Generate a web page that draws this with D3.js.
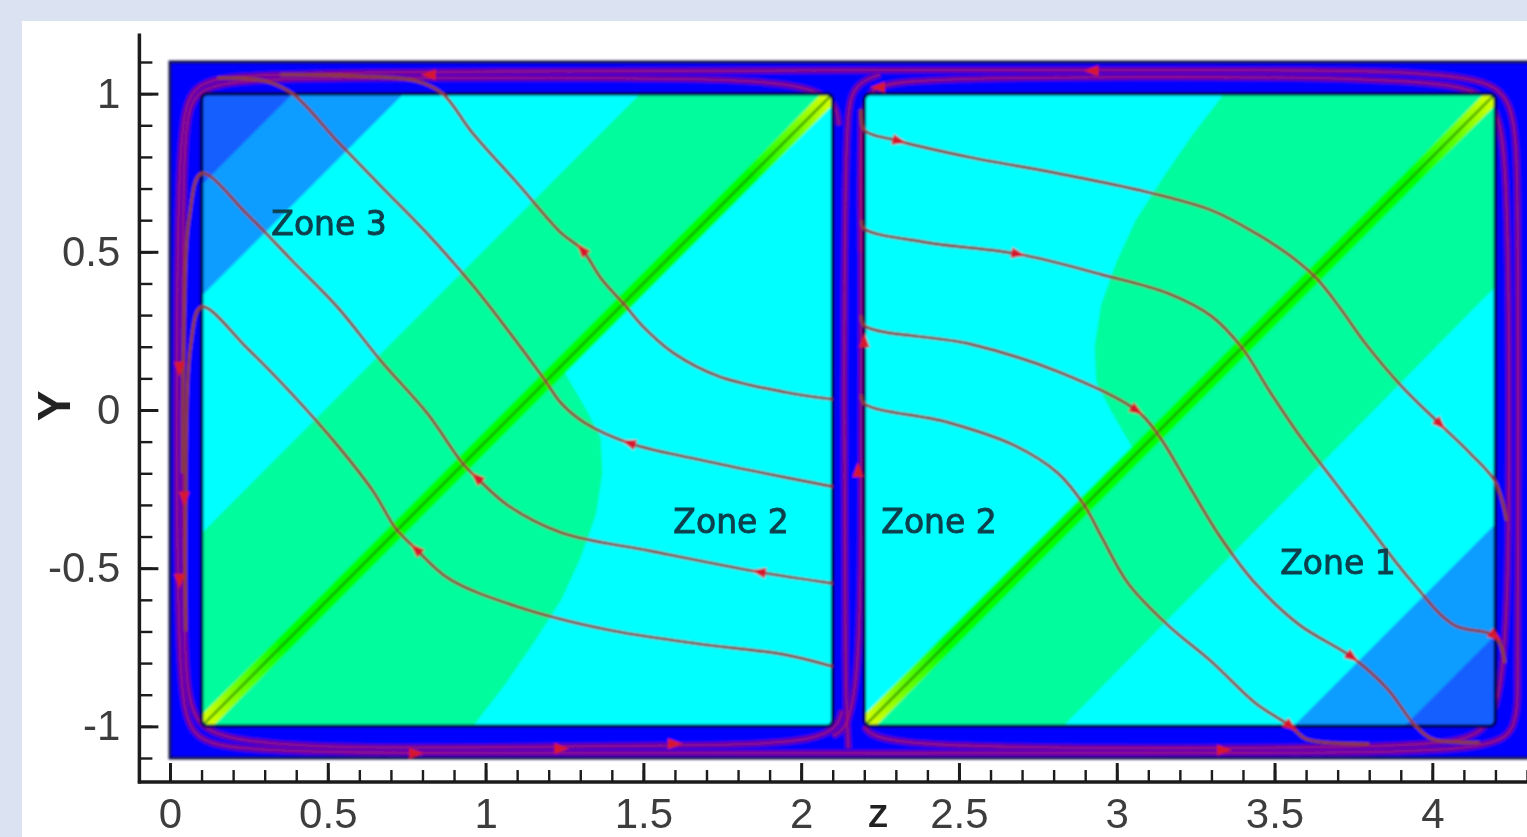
<!DOCTYPE html>
<html>
<head>
<meta charset="utf-8">
<style>
  html, body { margin: 0; padding: 0; background: #dbe3f3; overflow: hidden; }
  #chart { width: 1527px; height: 837px; }
</style>
</head>
<body>
<div id="chart"></div>
<script src="https://cdn.jsdelivr.net/npm/d3@7/dist/d3.min.js"></script>
<script>
// ---- axes ----
const xTicks = [0, 0.5, 1, 1.5, 2, 2.5, 3, 3.5, 4];
const yTicks = [-1, -0.5, 0, 0.5, 1];
const xMinorTicks = d3.range(0, 4.31, 0.1);
const yMinorTicks = d3.range(-1.1, 1.11, 0.1);
const xLabel = 'Z';
const yLabel = 'Y';

// ---- flow domain (z, Y) ----
const domainZ = [0, 4.3];
const domainY = [-1.1, 1.1];
const cellsZ = [[0.1, 2.1], [2.2, 4.2]];
const cellY = [-1, 1];

// contour bands, left cell
const upperGreenL = [[0.1, -1], [2.1, 1], [1.49, 1], [0.1, -0.39]];
const midBlueL = [[0.1, 0.36], [0.74, 1], [0.39, 1], [0.1, 0.71]];
const darkBlueL = [[0.1, 0.71], [0.39, 1], [0.1, 1]];
const lowerGreenL = [[0.1, -1], [1.25, 0.12], [1.32, 0.0], [1.365, -0.09], [1.37, -0.2], [1.35, -0.33],
  [1.3, -0.47], [1.24, -0.6], [1.15, -0.74], [1.06, -0.87], [0.96, -1]];

// contour bands, right cell
const upperGreenR = [[4.2, 1], [2.2, -1], [2.83, -1], [4.2, 0.39]];
const midBlueR = [[4.2, -0.36], [3.56, -1], [3.91, -1], [4.2, -0.71]];
const darkBlueR = [[4.2, -0.71], [3.91, -1], [4.2, -1]];
const lowerGreenR = [[4.2, 1], [3.05, -0.12], [2.98, 0.0], [2.935, 0.09], [2.93, 0.2], [2.95, 0.33],
  [3.0, 0.47], [3.06, 0.6], [3.15, 0.74], [3.24, 0.87], [3.34, 1]];

// streamlines inside the cells (flow order)
const lineA = [[2.1, 0.034], [1.951, 0.056], [1.738, 0.107], [1.596, 0.18], [1.496, 0.267], [1.44, 0.333],
  [1.368, 0.413], [1.305, 0.508], [1.24, 0.559], [1.099, 0.719], [0.956, 0.879], [0.864, 1],
  [0.78, 1.04], [0.6, 1.055], [0.35, 1.06]];
const lineB = [[2.1, -0.242], [1.88, -0.199], [1.667, -0.155], [1.454, -0.104], [1.312, -0.039], [1.241, 0.02],
  [1.184, 0.1], [1.07, 0.253], [0.956, 0.398], [0.814, 0.559], [0.672, 0.704], [0.53, 0.85], [0.388, 1],
  [0.3, 1.04], [0.15, 1.05]];
const lineC = [[2.1, -0.548], [1.866, -0.512], [1.525, -0.446], [1.241, -0.388], [1.07, -0.301], [0.971, -0.213],
  [0.928, -0.17], [0.814, -0.009], [0.672, 0.151], [0.53, 0.326], [0.388, 0.471], [0.246, 0.617], [0.1, 0.748],
  [0.06, 0.6], [0.045, 0.3], [0.04, -0.2]];
const lineD = [[2.1, -0.811], [1.951, -0.774], [1.667, -0.738], [1.383, -0.694], [1.099, -0.621], [0.885, -0.534],
  [0.779, -0.439], [0.715, -0.374], [0.644, -0.257], [0.53, -0.111], [0.388, 0.049], [0.246, 0.194], [0.1, 0.326],
  [0.065, 0.2], [0.05, -0.3], [0.05, -0.7]];
const lineE = [[2.19, 0.95], [2.2, 0.886], [2.311, 0.85], [2.534, 0.799], [2.813, 0.748], [3.092, 0.69], [3.301, 0.631],
  [3.44, 0.559], [3.552, 0.486], [3.636, 0.413], [3.705, 0.326], [3.789, 0.209], [3.9, 0.078], [4.026, -0.046],
  [4.123, -0.14], [4.2, -0.228], [4.235, -0.35]];
const lineF = [[2.19, 0.6], [2.2, 0.573], [2.395, 0.53], [2.688, 0.493], [2.953, 0.428], [3.162, 0.369], [3.301, 0.296],
  [3.399, 0.194], [3.482, 0.063], [3.58, -0.082], [3.691, -0.228], [3.803, -0.374], [3.928, -0.534],
  [4.068, -0.679], [4.2, -0.716], [4.23, -0.8]];
const lineG = [[2.19, 0.3], [2.2, 0.267], [2.534, 0.209], [2.813, 0.122], [3.064, -0.002], [3.134, -0.082],
  [3.231, -0.243], [3.329, -0.403], [3.44, -0.549], [3.58, -0.68], [3.747, -0.782], [3.859, -0.883],
  [3.942, -0.993], [4.0, -1.04], [4.15, -1.05]];
const lineH = [[2.19, 0.05], [2.2, 0.02], [2.465, -0.039], [2.674, -0.111], [2.813, -0.199], [2.897, -0.301],
  [2.953, -0.403], [3.036, -0.548], [3.162, -0.68], [3.301, -0.796], [3.44, -0.927], [3.552, -1],
  [3.6, -1.04], [3.8, -1.055]];
const cellLines = [lineA, lineB, lineC, lineD, lineE, lineF, lineG, lineH];

// arrowheads: [line index, point index]
const lineArrows = [[0, 7], [1, 3], [2, 5], [2, 1], [3, 6], [4, 2], [4, 13], [5, 3], [5, 14], [6, 4], [6, 10], [7, 11]];

// circulation in the blue gap around the cells
const bandLines = [
  [[4.27, -0.9], [4.275, 0.9], [4.25, 1.07], [3.5, 1.075], [2.2, 1.075], [1.0, 1.07], [0.1, 1.065], [0.025, 1.0],
   [0.02, 0], [0.025, -1.0], [0.1, -1.082], [1.0, -1.085], [2.2, -1.085], [3.5, -1.085], [4.2, -1.08], [4.265, -1.0], [4.27, -0.9]],
  [[2.12, 0.9], [2.1, 1.04], [1.5, 1.05], [0.6, 1.05], [0.1, 1.045], [0.045, 0.95], [0.04, 0.5], [0.04, -0.9],
   [0.08, -1.06], [0.8, -1.07], [1.6, -1.06], [2.1, -1.055], [2.13, -0.95]],
  [[2.2, -1.0], [2.25, -1.065], [3.2, -1.07], [4.1, -1.065], [4.24, -1.0], [4.245, 0], [4.24, 0.95], [4.15, 1.05],
   [3.0, 1.055], [2.25, 1.045], [2.185, 1.0], [2.19, 0.5]],
  [[2.15, -1.07], [2.14, -0.9], [2.135, 0], [2.14, 0.9], [2.16, 1.03], [2.25, 1.06]],
  [[2.1, -1.03], [2.19, -0.98], [2.192, 0], [2.19, 0.95]]
];
// [z, Y, direction in degrees on screen]
const bandArrows = [[0.82, 1.06, 180], [2.243, 1.02, 180], [2.92, 1.072, 180], [0.03, 0.13, 90], [0.03, -0.54, 90],
  [0.045, -0.28, 90], [0.78, -1.085, 0], [1.6, -1.055, 0], [1.24, -1.07, 0], [3.34, -1.075, 0],
  [2.2, 0.22, -90], [2.18, -0.19, -90]];

const zoneLabels = [
  { text: 'Zone 3', z: 0.504, Y: 0.591 },
  { text: 'Zone 2', z: 1.778, Y: -0.354 },
  { text: 'Zone 2', z: 2.437, Y: -0.354 },
  { text: 'Zone 1', z: 3.701, Y: -0.483 }
];

const bandsByCell = [
  [{ pts: upperGreenL, c: '#00fc9c' }, { pts: lowerGreenL, c: '#00fc9c' }, { pts: midBlueL, c: '#0a9cff' }, { pts: darkBlueL, c: '#165fff' }],
  [{ pts: upperGreenR, c: '#00fc9c' }, { pts: lowerGreenR, c: '#00fc9c' }, { pts: midBlueR, c: '#0a9cff' }, { pts: darkBlueR, c: '#165fff' }]
];

const axisZ = -0.097;       // where the Y axis stands
const axisY = -1.176;       // where the Z axis stands
const axisTopY = 1.19;

const width = 1527, height = 837;
const svg = d3.select('#chart').append('svg')
  .attr('width', width)
  .attr('height', height);

const defs = svg.append('defs');
defs.append('filter').attr('id', 'soft')
  .append('feGaussianBlur').attr('stdDeviation', 0.9);
defs.append('filter').attr('id', 'softer')
  .append('feGaussianBlur').attr('stdDeviation', 0.6);

svg.append('rect')
  .attr('x', 22).attr('y', 21)
  .attr('width', width - 22).attr('height', height - 21)
  .attr('fill', '#ffffff');

const x = d3.scaleLinear().domain(domainZ).range([170, 1527]);
const y = d3.scaleLinear().domain(domainY).range([758, 62]);
const line = d3.line().x(d => x(d[0])).y(d => y(d[1]));

const field = svg.append('g').attr('filter', 'url(#soft)');

// blue gap
field.append('rect')
  .attr('x', x(domainZ[0])).attr('y', y(domainY[1]))
  .attr('width', x(domainZ[1]) - x(domainZ[0]) + 10)
  .attr('height', y(domainY[0]) - y(domainY[1]))
  .attr('fill', '#0000ff')
  .attr('stroke', '#10104a')
  .attr('stroke-width', 3);

// band circulation lines
const bandCurve = d3.line().x(d => x(d[0])).y(d => y(d[1])).curve(d3.curveBasis);
field.selectAll('path.band').data(bandLines).join('path')
  .attr('class', 'band')
  .attr('d', bandCurve)
  .attr('fill', 'none')
  .attr('stroke', '#6c06b0')
  .attr('stroke-width', 7)
  .attr('stroke-opacity', 0.85);
field.selectAll('path.bandred').data(bandLines).join('path')
  .attr('class', 'bandred')
  .attr('d', bandCurve)
  .attr('fill', 'none')
  .attr('stroke', '#b0105a')
  .attr('stroke-width', 1.8)
  .attr('stroke-opacity', 0.75);

// cells
cellsZ.forEach((cz, i) => {
  const cx0 = x(cz[0]), cx1 = x(cz[1]), cy0 = y(cellY[1]), cy1 = y(cellY[0]);
  const clipId = `cell-clip-${i}`;
  defs.append('clipPath').attr('id', clipId)
    .append('rect')
      .attr('x', cx0).attr('y', cy0)
      .attr('width', cx1 - cx0).attr('height', cy1 - cy0)
      .attr('rx', 6);

  const g = field.append('g').attr('clip-path', `url(#${clipId})`);
  g.append('rect')
    .attr('x', cx0).attr('y', cy0)
    .attr('width', cx1 - cx0).attr('height', cy1 - cy0)
    .attr('fill', '#00ffff');
  g.selectAll('path.zone').data(bandsByCell[i]).join('path')
    .attr('class', 'zone')
    .attr('d', d => line(d.pts) + 'Z')
    .attr('fill', d => d.c);

  // shear layer along the diagonal
  const gradId = `diag-grad-${i}`;
  const grad = defs.append('linearGradient').attr('id', gradId)
    .attr('gradientUnits', 'userSpaceOnUse')
    .attr('x1', cx0).attr('y1', cy1).attr('x2', cx1).attr('y2', cy0);
  [[0, '#e6ff00'], [0.06, '#70ff00'], [0.13, '#00ff00'], [0.87, '#00ff00'], [0.94, '#70ff00'], [1, '#e6ff00']]
    .forEach(s => grad.append('stop').attr('offset', s[0]).attr('stop-color', s[1]));
  const diag = [[cz[0], cellY[0]], [cz[1], cellY[1]]];
  g.append('path').attr('d', line(diag))
    .attr('stroke', `url(#${gradId})`).attr('stroke-width', 16);
  g.append('path').attr('d', line(diag))
    .attr('stroke', '#1e7d00').attr('stroke-width', 2.5).attr('stroke-opacity', 0.7);

  field.append('rect')
    .attr('x', cx0).attr('y', cy0)
    .attr('width', cx1 - cx0).attr('height', cy1 - cy0)
    .attr('rx', 6)
    .attr('fill', 'none')
    .attr('stroke', '#000050')
    .attr('stroke-width', 3.5);
});

// streamlines in the cells
const streamCurve = d3.line().x(d => x(d[0])).y(d => y(d[1])).curve(d3.curveCatmullRom.alpha(0.5));
field.selectAll('path.stream').data(cellLines).join('path')
  .attr('class', 'stream')
  .attr('d', streamCurve)
  .attr('fill', 'none')
  .attr('stroke', '#8e3a3a')
  .attr('stroke-width', 3.2)
  .attr('stroke-linejoin', 'round');

// arrowheads
const arrowShape = 'M8,0L-7,-5.5L-7,5.5Z';
const arrowData = lineArrows.map(([li, pi]) => {
  const pts = cellLines[li];
  const a = pts[Math.max(pi - 1, 0)], b = pts[Math.min(pi + 1, pts.length - 1)];
  const ang = Math.atan2(y(b[1]) - y(a[1]), x(b[0]) - x(a[0])) * 180 / Math.PI;
  return [pts[pi][0], pts[pi][1], ang];
}).concat(bandArrows);
field.selectAll('path.arrow').data(arrowData).join('path')
  .attr('class', 'arrow')
  .attr('d', arrowShape)
  .attr('transform', d => `translate(${x(d[0])},${y(d[1])}) rotate(${d[2]})`)
  .attr('fill', '#d8142e');

// zone labels
svg.append('g').attr('filter', 'url(#softer)')
  .selectAll('text').data(zoneLabels).join('text')
    .attr('x', d => x(d.z))
    .attr('y', d => y(d.Y))
    .attr('text-anchor', 'middle')
    .attr('dominant-baseline', 'central')
    .style('font-family', '"DejaVu Sans", Verdana, sans-serif')
    .style('font-size', '33px')
    .attr('fill', '#0a3f4c')
    .attr('stroke', '#0a3f4c')
    .attr('stroke-width', 0.9)
    .text(d => d.text);

// axes
const axes = svg.append('g').attr('filter', 'url(#softer)');
const axisX0 = x(axisZ), axisY0 = y(axisY);
const tickText = g => g.selectAll('text')
  .style('font-family', '"Liberation Sans", Arial, sans-serif')
  .style('font-size', '42px')
  .attr('fill', '#3e3e3e');

axes.append('g')
  .attr('transform', `translate(${axisX0},0)`)
  .call(d3.axisLeft(y).tickValues(yMinorTicks).tickSize(-13).tickFormat(''))
  .call(g => g.select('.domain').remove())
  .call(g => g.selectAll('line').attr('stroke', '#1a1a1a').attr('stroke-width', 2.4));
axes.append('g')
  .attr('transform', `translate(${axisX0},0)`)
  .call(d3.axisLeft(y).tickValues(yTicks).tickSize(-19).tickPadding(19).tickFormat(d => String(d)))
  .call(g => g.select('.domain').remove())
  .call(g => g.selectAll('line').attr('stroke', '#1a1a1a').attr('stroke-width', 3))
  .call(tickText);

axes.append('g')
  .attr('transform', `translate(0,${axisY0})`)
  .call(d3.axisBottom(x).tickValues(xMinorTicks).tickSize(-12).tickFormat(''))
  .call(g => g.select('.domain').remove())
  .call(g => g.selectAll('line').attr('stroke', '#1a1a1a').attr('stroke-width', 2.4));
axes.append('g')
  .attr('transform', `translate(0,${axisY0})`)
  .call(d3.axisBottom(x).tickValues(xTicks).tickSize(-19).tickPadding(16).tickFormat(d => String(d)))
  .call(g => g.select('.domain').remove())
  .call(g => g.selectAll('line').attr('stroke', '#1a1a1a').attr('stroke-width', 3))
  .call(tickText);

axes.append('line')
  .attr('x1', axisX0).attr('x2', axisX0)
  .attr('y1', y(axisTopY)).attr('y2', axisY0 + 1.5)
  .attr('stroke', '#1a1a1a').attr('stroke-width', 3.5);
axes.append('line')
  .attr('x1', axisX0 - 1.5).attr('x2', width)
  .attr('y1', axisY0).attr('y2', axisY0)
  .attr('stroke', '#1a1a1a').attr('stroke-width', 3.5);

axes.append('text')
  .attr('transform', `translate(54,${y(0) - 4}) rotate(-90)`)
  .attr('text-anchor', 'middle')
  .attr('dominant-baseline', 'central')
  .style('font-family', '"Liberation Sans", Arial, sans-serif')
  .style('font-size', '46px')
  .style('font-weight', 'bold')
  .attr('fill', '#222')
  .text(yLabel);
axes.append('text')
  .attr('x', 878)
  .attr('y', 827)
  .attr('text-anchor', 'middle')
  .style('font-family', '"Liberation Sans", Arial, sans-serif')
  .style('font-size', '32px')
  .style('font-weight', 'bold')
  .attr('fill', '#222')
  .text(xLabel);
</script>
</body>
</html>
